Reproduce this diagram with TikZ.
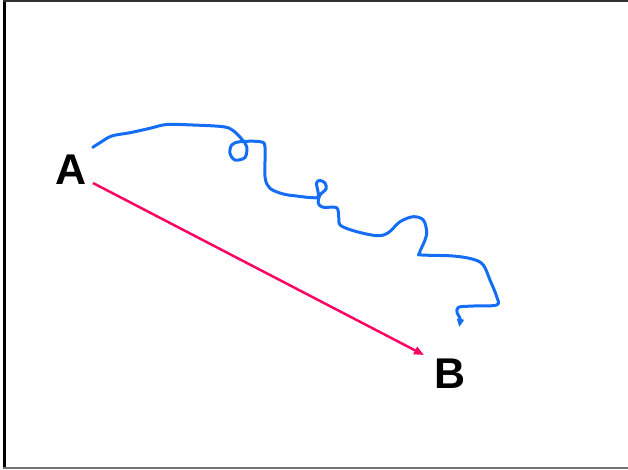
\documentclass[tikz,border=0pt]{standalone}
\usepackage{fontspec}
\setmainfont{Liberation Sans}
\usetikzlibrary{arrows.meta}
\definecolor{penblue}{RGB}{20,110,245}
\definecolor{penred}{RGB}{250,5,100}
\tikzset{
  lbl/.style={font=\fontsize{43}{43}\selectfont\bfseries, inner sep=0pt},
  bluepen/.style={penblue, line width=3pt, line cap=round, line join=round,
    -{Triangle[length=8pt,width=7pt]}},
  redpen/.style={penred, line width=2.5pt, -{Triangle[length=10pt,width=8pt]}},
}
\begin{document}
\begin{tikzpicture}[x=1pt,y=-1pt]
\useasboundingbox (0,0) rectangle (628,469);
% frame
\draw[black, line width=3pt] (4.5,0) -- (4.5,469);
\draw[black!80, line width=2pt] (3,1) -- (628,1);
\draw[black!55, line width=1.6pt] (3,468) -- (628,468);
% labels
\node[lbl] (A) at (71,170) {A};
\node[lbl] (B) at (450,374) {B};
% red arrow
\coordinate (As) at (93,183);
\coordinate (Be) at (424,355);
\draw[redpen] (As) -- (Be);
% blue freehand path
\coordinate (Bs) at (92.7,147.3);
\draw[bluepen] plot[smooth, tension=0.55] coordinates {
(Bs) (100,142.7) (111.7,136) (130,132.7) (150,128.3) (166.7,124.5) (193,125)
(223,126.7) (233,130.5) (241.7,139) (246.7,146.7) (245,157.5) (235,160)
(230,153.3) (231.7,145) (240,141.7) (260,141.7) (265,147) (265,176.7)
(270,188.3) (283.3,194) (296.7,196) (310,197.5) (318.3,196.5) (316.5,183.3)
(320,180.5) (325,183) (326,189) (320,195) (318.3,203.3) (323.3,207.3)
(336.7,207.8) (338.8,218.3) (340,225) (353.3,230.7) (376.7,235.7)
(388.3,232.7) (400,221.7) (413.3,216.7) (423.3,220) (426.7,231.7) (425,240)
(419.3,253.3) (421.7,255) (453.3,256) (473.3,259.3) (483.3,265) (490,280)
(496.7,296.7) (496.7,305) (473.3,306) (458.3,307.3) (457.3,313.3) (460,318.3)
(459.3,327)};
\end{tikzpicture}
\end{document}
